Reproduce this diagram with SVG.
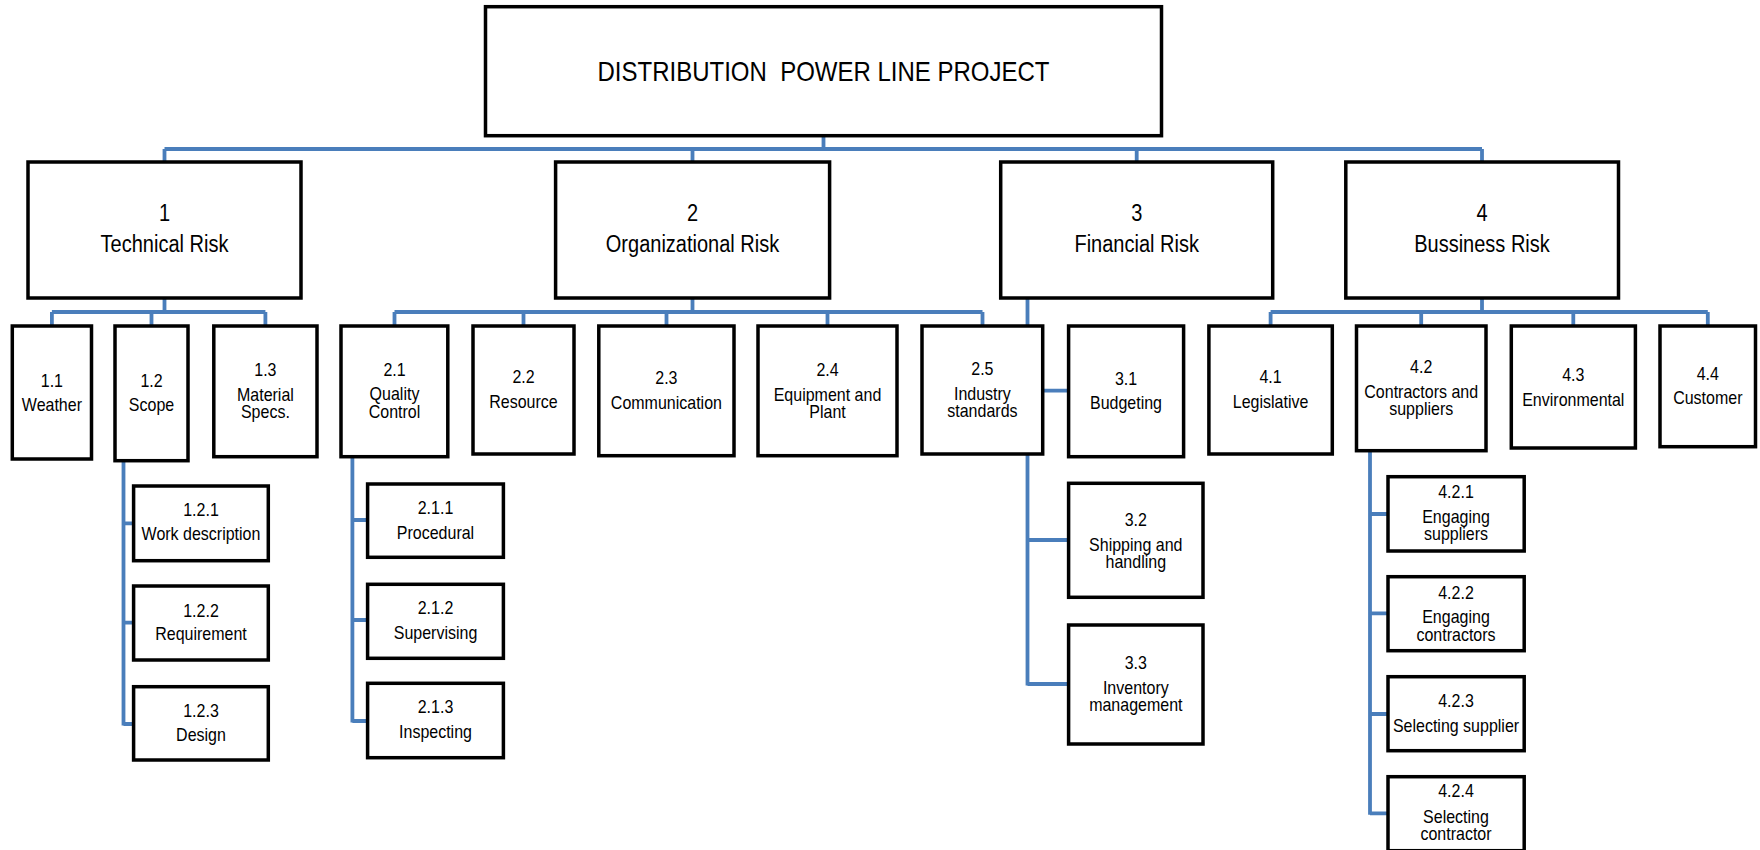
<svg xmlns="http://www.w3.org/2000/svg" width="1760" height="850" viewBox="0 0 1760 850">
<style>
.box{fill:#fff;stroke:#000;stroke-width:3.5}
.con{fill:none;stroke:#4a7ebb;stroke-width:3.8}
text{font-family:"Liberation Sans",Arial,sans-serif;fill:#000;text-anchor:middle}
.r{font-size:24px}
.l1{font-size:20px}
.s{font-size:16px}
</style>
<rect width="1760" height="850" fill="#fff"/>
<g id="connectors" class="con">
<path d="M823.5 135.7V149M164.5 149H1482M164.5 149V162M692.5 149V162M1136.7 149V162M1482 149V162"/>
<path d="M164.5 298V312M51.9 312H265.4M51.9 312V326M151.5 312V326M265.4 312V326"/>
<path d="M692.5 298V312M394.5 312H982.5M394.5 312V326M523.5 312V326M666.5 312V326M827.5 312V326M982.5 312V326"/>
<path d="M1027.5 298V685.5M1027.5 390.7H1068.6M1027.5 540H1068.6M1027.5 684H1068.6"/>
<path d="M1482 298V312M1270.6 312H1707.8M1270.6 312V326M1421.2 312V326M1573.3 312V326M1707.8 312V326"/>
<path d="M123.5 460V725.5M123.5 523.3H133.6M123.5 622.7H133.6M123.5 724H133.6"/>
<path d="M352.4 456V722.5M352.4 520H367.6M352.4 620H367.6M352.4 721H367.6"/>
<path d="M1370 450V814.8M1370 514H1388M1370 613.3H1388M1370 714H1388M1370 813.3H1388"/>
</g>
<g id="root"><rect class="box" x="485.5" y="6.7" width="676" height="129"/>
<text class="r" xml:space="preserve" transform="translate(823.5,81) scale(1,1.15)">DISTRIBUTION  POWER LINE PROJECT</text></g>
<g id="n1"><rect class="box" x="28" y="162" width="273" height="136"/>
<text class="l1" transform="translate(164.5,221) scale(1,1.15)">1</text><text class="l1" transform="translate(164.5,252) scale(1,1.15)">Technical Risk</text></g>
<g id="n2"><rect class="box" x="555.6" y="162" width="274" height="136"/>
<text class="l1" transform="translate(692.5,221) scale(1,1.15)">2</text><text class="l1" transform="translate(692.5,252) scale(1,1.15)">Organizational Risk</text></g>
<g id="n3"><rect class="box" x="1000.7" y="162" width="272" height="136"/>
<text class="l1" transform="translate(1136.7,221) scale(1,1.15)">3</text><text class="l1" transform="translate(1136.7,252) scale(1,1.15)">Financial Risk</text></g>
<g id="n4"><rect class="box" x="1345.8" y="162" width="272.7" height="136"/>
<text class="l1" transform="translate(1482,221) scale(1,1.15)">4</text><text class="l1" transform="translate(1482,252) scale(1,1.15)">Bussiness Risk</text></g>
<g id="n1_1"><rect class="box" x="12.3" y="326" width="79.2" height="133"/>
<text class="s" transform="translate(51.9,386.7) scale(1,1.15)">1.1</text><text class="s" transform="translate(51.9,410.7) scale(1,1.15)">Weather</text></g>
<g id="n1_2"><rect class="box" x="115" y="326" width="73" height="134.7"/>
<text class="s" transform="translate(151.5,386.7) scale(1,1.15)">1.2</text><text class="s" transform="translate(151.5,410.7) scale(1,1.15)">Scope</text></g>
<g id="n1_3"><rect class="box" x="213.8" y="326" width="103.2" height="130.7"/>
<text class="s" transform="translate(265.4,376) scale(1,1.15)">1.3</text><text class="s" transform="translate(265.4,401) scale(1,1.15)">Material</text><text class="s" transform="translate(265.4,418) scale(1,1.15)">Specs.</text></g>
<g id="n2_1"><rect class="box" x="341" y="326" width="106.8" height="130.7"/>
<text class="s" transform="translate(394.5,376) scale(1,1.15)">2.1</text><text class="s" transform="translate(394.5,400) scale(1,1.15)">Quality</text><text class="s" transform="translate(394.5,418) scale(1,1.15)">Control</text></g>
<g id="n2_2"><rect class="box" x="473" y="326" width="101" height="128"/>
<text class="s" transform="translate(523.5,383) scale(1,1.15)">2.2</text><text class="s" transform="translate(523.5,408) scale(1,1.15)">Resource</text></g>
<g id="n2_3"><rect class="box" x="598.8" y="326" width="135.2" height="129.7"/>
<text class="s" transform="translate(666.4,384) scale(1,1.15)">2.3</text><text class="s" transform="translate(666.4,409) scale(1,1.15)">Communication</text></g>
<g id="n2_4"><rect class="box" x="758" y="326" width="139" height="129.7"/>
<text class="s" transform="translate(827.5,376) scale(1,1.15)">2.4</text><text class="s" transform="translate(827.5,401) scale(1,1.15)">Equipment and</text><text class="s" transform="translate(827.5,418) scale(1,1.15)">Plant</text></g>
<g id="n2_5"><rect class="box" x="922" y="326" width="120.7" height="128"/>
<text class="s" transform="translate(982.4,375) scale(1,1.15)">2.5</text><text class="s" transform="translate(982.4,400) scale(1,1.15)">Industry</text><text class="s" transform="translate(982.4,417) scale(1,1.15)">standards</text></g>
<g id="n3_1"><rect class="box" x="1068.6" y="326" width="115" height="130.7"/>
<text class="s" transform="translate(1126,385) scale(1,1.15)">3.1</text><text class="s" transform="translate(1126,409) scale(1,1.15)">Budgeting</text></g>
<g id="n4_1"><rect class="box" x="1208.9" y="326" width="123.4" height="128"/>
<text class="s" transform="translate(1270.6,383) scale(1,1.15)">4.1</text><text class="s" transform="translate(1270.6,408) scale(1,1.15)">Legislative</text></g>
<g id="n4_2"><rect class="box" x="1356.5" y="326" width="129.5" height="124.7"/>
<text class="s" transform="translate(1421.2,373) scale(1,1.15)">4.2</text><text class="s" transform="translate(1421.2,398) scale(1,1.15)">Contractors and</text><text class="s" transform="translate(1421.2,415) scale(1,1.15)">suppliers</text></g>
<g id="n4_3"><rect class="box" x="1511.3" y="326" width="124.1" height="122"/>
<text class="s" transform="translate(1573.3,381) scale(1,1.15)">4.3</text><text class="s" transform="translate(1573.3,406) scale(1,1.15)">Environmental</text></g>
<g id="n4_4"><rect class="box" x="1660" y="326" width="95.5" height="120.7"/>
<text class="s" transform="translate(1707.8,380) scale(1,1.15)">4.4</text><text class="s" transform="translate(1707.8,404) scale(1,1.15)">Customer</text></g>
<g id="n1_2_1"><rect class="box" x="133.6" y="486" width="134.7" height="74.7"/>
<text class="s" transform="translate(201,516) scale(1,1.15)">1.2.1</text><text class="s" transform="translate(201,540) scale(1,1.15)">Work description</text></g>
<g id="n1_2_2"><rect class="box" x="133.6" y="586" width="134.7" height="74"/>
<text class="s" transform="translate(201,616.7) scale(1,1.15)">1.2.2</text><text class="s" transform="translate(201,639.5) scale(1,1.15)">Requirement</text></g>
<g id="n1_2_3"><rect class="box" x="133.6" y="686.7" width="134.7" height="73.3"/>
<text class="s" transform="translate(201,716.7) scale(1,1.15)">1.2.3</text><text class="s" transform="translate(201,740.5) scale(1,1.15)">Design</text></g>
<g id="n2_1_1"><rect class="box" x="367.6" y="484" width="135.8" height="73.3"/>
<text class="s" transform="translate(435.5,514) scale(1,1.15)">2.1.1</text><text class="s" transform="translate(435.5,539) scale(1,1.15)">Procedural</text></g>
<g id="n2_1_2"><rect class="box" x="367.6" y="584.3" width="135.8" height="74"/>
<text class="s" transform="translate(435.5,614) scale(1,1.15)">2.1.2</text><text class="s" transform="translate(435.5,639) scale(1,1.15)">Supervising</text></g>
<g id="n2_1_3"><rect class="box" x="367.6" y="683.3" width="135.8" height="74.4"/>
<text class="s" transform="translate(435.5,713) scale(1,1.15)">2.1.3</text><text class="s" transform="translate(435.5,737.7) scale(1,1.15)">Inspecting</text></g>
<g id="n3_2"><rect class="box" x="1068.6" y="483.3" width="134.4" height="114"/>
<text class="s" transform="translate(1135.8,526) scale(1,1.15)">3.2</text><text class="s" transform="translate(1135.8,551) scale(1,1.15)">Shipping and</text><text class="s" transform="translate(1135.8,567.7) scale(1,1.15)">handling</text></g>
<g id="n3_3"><rect class="box" x="1068.6" y="625" width="134.4" height="119"/>
<text class="s" transform="translate(1135.8,668.7) scale(1,1.15)">3.3</text><text class="s" transform="translate(1135.8,694) scale(1,1.15)">Inventory</text><text class="s" transform="translate(1135.8,711) scale(1,1.15)">management</text></g>
<g id="n4_2_1"><rect class="box" x="1388" y="476.7" width="136.2" height="74.3"/>
<text class="s" transform="translate(1456,498) scale(1,1.15)">4.2.1</text><text class="s" transform="translate(1456,523) scale(1,1.15)">Engaging</text><text class="s" transform="translate(1456,540) scale(1,1.15)">suppliers</text></g>
<g id="n4_2_2"><rect class="box" x="1388" y="576.7" width="136.2" height="74"/>
<text class="s" transform="translate(1456,599) scale(1,1.15)">4.2.2</text><text class="s" transform="translate(1456,623) scale(1,1.15)">Engaging</text><text class="s" transform="translate(1456,641) scale(1,1.15)">contractors</text></g>
<g id="n4_2_3"><rect class="box" x="1388" y="676.7" width="136.2" height="74"/>
<text class="s" transform="translate(1456,706.7) scale(1,1.15)">4.2.3</text><text class="s" transform="translate(1456,731.7) scale(1,1.15)">Selecting supplier</text></g>
<g id="n4_2_4"><rect class="box" x="1388" y="776.7" width="136.2" height="74"/>
<text class="s" transform="translate(1456,797.3) scale(1,1.15)">4.2.4</text><text class="s" transform="translate(1456,822.7) scale(1,1.15)">Selecting</text><text class="s" transform="translate(1456,840) scale(1,1.15)">contractor</text></g>
</svg>
